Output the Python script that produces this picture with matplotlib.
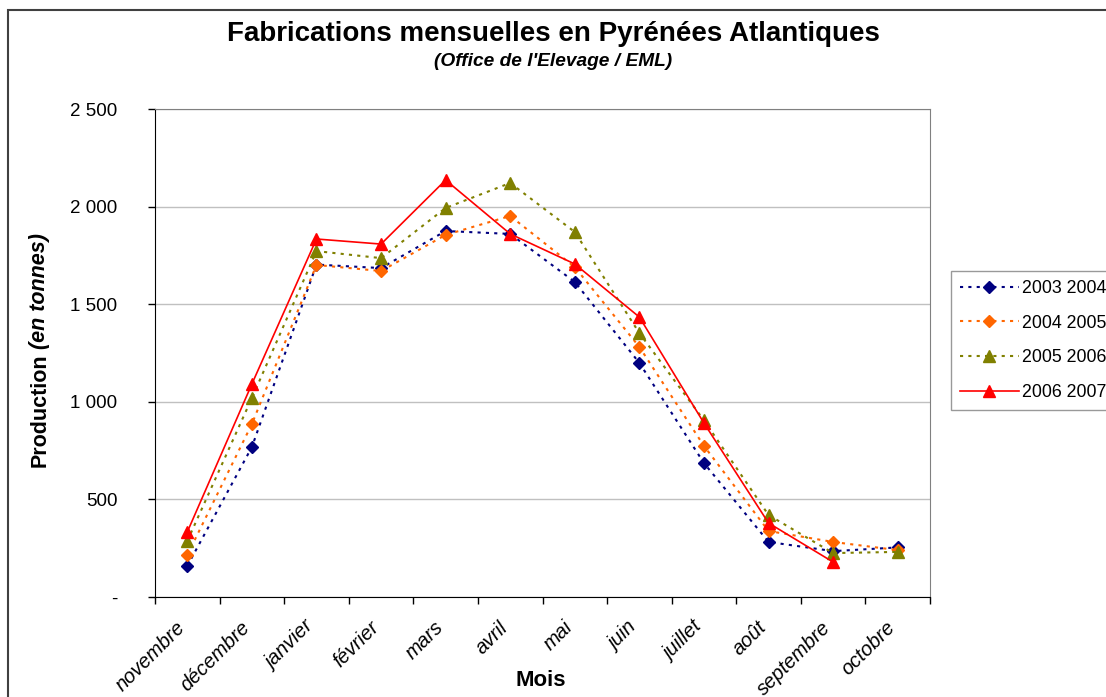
import matplotlib
matplotlib.use("Agg")
import matplotlib.pyplot as plt
import matplotlib.transforms as mtransforms
from matplotlib.patches import Rectangle
from matplotlib.ticker import FuncFormatter, FixedLocator

plt.rcParams['font.family'] = ['Liberation Sans', 'DejaVu Sans']

mois = ["novembre", "décembre", "janvier", "février", "mars", "avril",
        "mai", "juin", "juillet", "août", "septembre", "octobre"]

prod_2003_2004 = [159, 768, 1703, 1685, 1875, 1860, 1614, 1199, 686, 282, 235, 254]
prod_2004_2005 = [215, 886, 1701, 1670, 1855, 1952, 1690, 1281, 774, 338, 282, 240]
prod_2005_2006 = [287, 1019, 1772, 1736, 1993, 2121, 1870, 1352, 905, 420, 225, 231]
prod_2006_2007 = [333, 1091, 1834, 1808, 2136, 1860, 1706, 1434, 891, 379, 179, None]

series = [
    ("2003 2004", prod_2003_2004, "#000080", "D", (0, (1.5, 2.5)), 1.5),
    ("2004 2005", prod_2004_2005, "#FF6600", "D", (0, (1.5, 2.5)), 1.5),
    ("2005 2006", prod_2005_2006, "#808000", "^", (0, (1.5, 2.5)), 1.5),
    ("2006 2007", prod_2006_2007, "#FF0000", "^", "-", 1.2),
]

W, H = 1106, 697
fig = plt.figure(figsize=(W / 100, H / 100), dpi=100)
ax = fig.add_axes([155 / W, 1 - 597 / H, 775 / W, 488 / H])

x = list(range(len(mois)))
for nom, vals, col, mk, ls, lw in series:
    xs = [i for i, v in zip(x, vals) if v is not None]
    ys = [v for v in vals if v is not None]
    ms = 6.5 if mk == "D" else 8.5
    ax.plot(xs, ys, linestyle=ls, color=col, lw=lw, marker=mk, ms=ms,
            markeredgecolor=col, markerfacecolor=col, label=nom)

ax.set_xlim(-0.5, len(mois) - 0.5)
ax.set_ylim(0, 2500)
ax.set_yticks([0, 500, 1000, 1500, 2000, 2500])
ax.yaxis.set_major_formatter(FuncFormatter(
    lambda v, p: "-" if v == 0 else f"{int(v):,}".replace(",", " ")))
ax.yaxis.grid(True, color="#c0c0c0", lw=1)
ax.set_axisbelow(True)

# ticks aux limites des categories, etiquettes au centre
ax.xaxis.set_major_locator(FixedLocator([i - 0.5 for i in range(len(mois) + 1)]))
ax.xaxis.set_minor_locator(FixedLocator(x))
ax.set_xticklabels([], minor=False)
ax.set_xticklabels(mois, minor=True, rotation=45, ha="right",
                   rotation_mode="anchor", fontsize=14.5, style="italic")
ax.tick_params(axis="x", which="major", direction="out", length=5, width=1)
ax.tick_params(axis="x", which="minor", length=0, pad=15)
ax.tick_params(axis="y", direction="out", length=5, width=1, pad=22, labelsize=13.5)
decal = mtransforms.ScaledTranslation(-12 / 100, 0, fig.dpi_scale_trans)
for lab in ax.xaxis.get_minorticklabels():
    lab.set_transform(lab.get_transform() + decal)

for s in ["left", "bottom"]:
    ax.spines[s].set_color("black")
for s in ["top", "right"]:
    ax.spines[s].set_color("#808080")

fig.text(40 / W, 1 - 467 / H, "Production", rotation=90, rotation_mode="anchor",
         ha="left", va="center", fontsize=15.5, fontweight="bold")
fig.text(40 / W, 1 - 233 / H, "(en tonnes)", rotation=90, rotation_mode="anchor",
         ha="right", va="center", fontsize=15.5, fontweight="bold", style="italic")
fig.text(541 / W, 1 - 681 / H, "Mois", ha="center", va="center",
         fontsize=16, fontweight="bold")

fig.text(553 / W, 1 - 34 / H, "Fabrications mensuelles en Pyrénées Atlantiques",
         ha="center", va="center", fontsize=20, fontweight="bold")
fig.text(553 / W, 1 - 61 / H, "(Office de l'Elevage / EML)",
         ha="center", va="center", fontsize=13.8, fontweight="bold", style="italic")

leg = fig.legend(loc="upper left", bbox_to_anchor=(951 / W, 1 - 271 / H),
                 fontsize=12.8, frameon=True, fancybox=False, numpoints=1,
                 handlelength=3.3, handletextpad=0.2, labelspacing=1.0,
                 borderpad=0.5, borderaxespad=0)
leg.get_frame().set_edgecolor("#808080")
leg.get_frame().set_linewidth(1)

fig.patches.append(Rectangle((8 / W, -0.1), 1.2, 1 - 10 / H + 0.1,
                             transform=fig.transFigure, fill=False,
                             edgecolor="#404040", lw=1.5))

fig.savefig("out.png", dpi=100)
